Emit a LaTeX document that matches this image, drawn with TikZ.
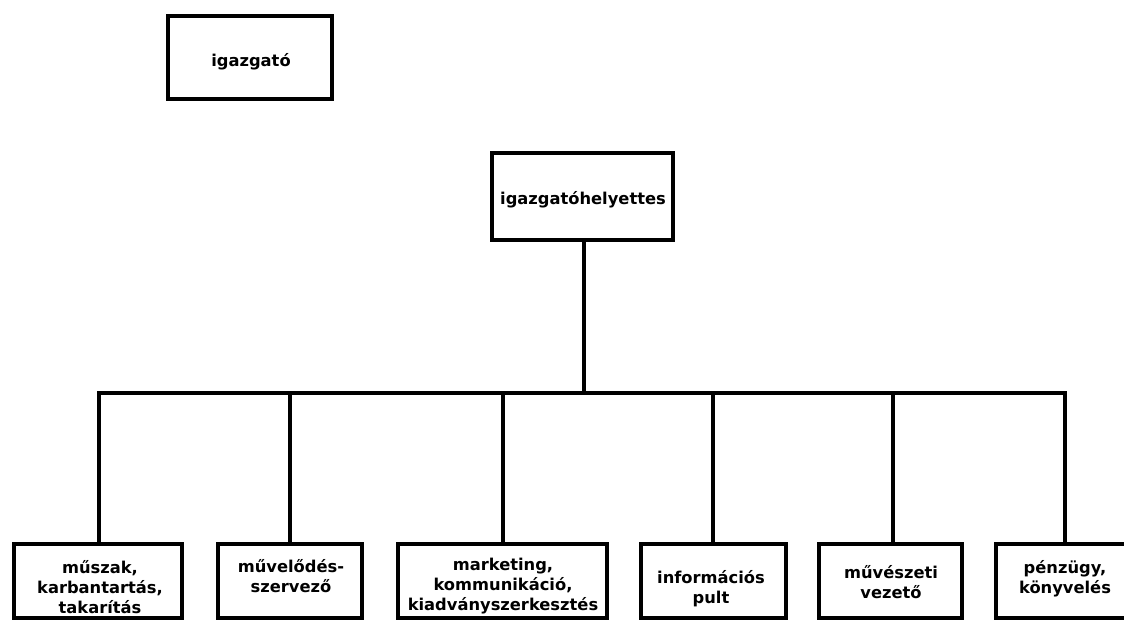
\documentclass[tikz,border=0pt]{standalone}
\usepackage{fontspec}
\setmainfont{DejaVu Sans}
\begin{document}
\begin{tikzpicture}[x=1pt,y=-1pt,
  box/.style={draw=black, line width=3.6pt, rectangle, inner sep=0pt, outer sep=0pt, anchor=north west},
  lbl/.style={inner sep=0pt, anchor=base, font=\fontsize{16.3}{20}\selectfont\bfseries},
  conn/.style={draw=black, line width=3.4pt, line join=miter}]
\useasboundingbox (0,0) rectangle (1124,621);
\clip (0,0) rectangle (1124,621);
% boxes
\node[box, minimum width=164pt, minimum height=83pt] (dir) at (168,16) {};
\node[box, minimum width=181pt, minimum height=87pt] (dep) at (492,153) {};
\node[box, minimum width=168pt, minimum height=74pt] (b1) at (14,544) {};
\node[box, minimum width=144pt, minimum height=74pt] (b2) at (218,544) {};
\node[box, minimum width=209pt, minimum height=74pt] (b3) at (398,544) {};
\node[box, minimum width=145pt, minimum height=74pt] (b4) at (641,544) {};
\node[box, minimum width=143pt, minimum height=74pt] (b5) at (819,544) {};
\node[box, minimum width=140pt, minimum height=74pt] (b6) at (996,544) {};
% labels
\node[lbl] (tdir) at (251,66) {igazgató};
\node[lbl] (tdep) at (583,204) {igazgatóhelyettes};
\node[lbl] (t1) at (100,573) {\begin{tabular}[t]{@{}c@{}}műszak,\\karbantartás,\\takarítás\end{tabular}};
\node[lbl] (t2) at (291,572) {\begin{tabular}[t]{@{}c@{}}művelődés-\\szervező\end{tabular}};
\node[lbl] (t3) at (503,570) {\begin{tabular}[t]{@{}c@{}}marketing,\\kommunikáció,\\kiadványszerkesztés\end{tabular}};
\node[lbl] (t4) at (711,583) {\begin{tabular}[t]{@{}c@{}}információs\\pult\end{tabular}};
\node[lbl] (t5) at (891,578) {\begin{tabular}[t]{@{}c@{}}művészeti\\vezető\end{tabular}};
\node[lbl] (t6) at (1065,573) {\begin{tabular}[t]{@{}c@{}}pénzügy,\\könyvelés\end{tabular}};
% bus junctions
\coordinate (jh) at (584,393);
\coordinate (j1) at (99,393);
\coordinate (j2) at (290,393);
\coordinate (j3) at (503,393);
\coordinate (j4) at (713,393);
\coordinate (j5) at (893,393);
\coordinate (j6) at (1065,393);
% connectors
\draw[conn] (jh |- dep.south) -- (jh);
\draw[conn] (j1 |- b1.north) -- (j1) -- (j6) -- (j6 |- b6.north);
\draw[conn] (j2) -- (j2 |- b2.north);
\draw[conn] (j3) -- (j3 |- b3.north);
\draw[conn] (j4) -- (j4 |- b4.north);
\draw[conn] (j5) -- (j5 |- b5.north);
\end{tikzpicture}
\end{document}
